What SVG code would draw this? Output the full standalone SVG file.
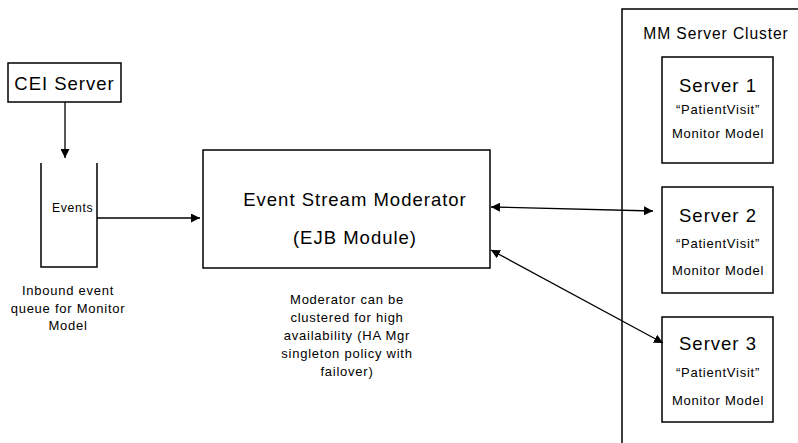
<svg xmlns="http://www.w3.org/2000/svg" width="798" height="443" viewBox="0 0 798 443">
<style>
text{font-family:"Liberation Sans",Arial,sans-serif;fill:#000;text-anchor:middle}
.box{fill:#fff;stroke:#000;stroke-width:1.5}
.ln{fill:none;stroke:#000;stroke-width:1.3}
.big{font-size:18.5px;letter-spacing:1px}
.sm{font-size:13px;letter-spacing:0.75px}
</style>
<defs>
<marker id="ah" viewBox="0 0 10 10" refX="10" refY="5" markerWidth="9" markerHeight="9" markerUnits="userSpaceOnUse" orient="auto-start-reverse">
<path d="M0,0 L10,5 L0,10 z" fill="#000"/>
</marker>
</defs>
<rect width="798" height="443" fill="#fff"/>
<g id="cluster">
<path class="ln" d="M800 9 H622 V445" style="stroke-width:1.5"/>
<text x="716" y="39" style="font-size:15.6px;letter-spacing:0.9px">MM Server Cluster</text>
</g>
<g id="cei">
<rect class="box" x="8" y="63" width="113" height="39"/>
<text class="big" x="64.5" y="89.5">CEI Server</text>
</g>
<g id="queue">
<path class="ln" d="M41 163 V267 H97 V163" style="stroke-width:1.5"/>
<text x="52" y="211.5" style="font-size:12.2px;letter-spacing:0.65px;text-anchor:start">Events</text>
<text class="sm" x="68" y="295">Inbound event</text>
<text class="sm" x="68" y="312.5">queue for Monitor</text>
<text class="sm" x="68" y="330">Model</text>
</g>
<g id="moderator">
<rect class="box" x="203" y="150" width="287" height="118"/>
<text class="big" x="355" y="205.5">Event Stream Moderator</text>
<text class="big" x="355" y="243.5">(EJB Module)</text>
<text class="sm" x="347" y="303.5">Moderator can be</text>
<text class="sm" x="347" y="321.5">clustered for high</text>
<text class="sm" x="347" y="339.5">availability (HA Mgr</text>
<text class="sm" x="347" y="357.5">singleton policy with</text>
<text class="sm" x="347" y="375.5">failover)</text>
</g>
<g id="server1">
<rect class="box" x="662" y="57" width="111" height="106"/>
<text class="big" x="718" y="91.5">Server 1</text>
<text class="sm" x="718" y="113.5">“PatientVisit”</text>
<text class="sm" x="718" y="137.5">Monitor Model</text>
</g>
<g id="server2">
<rect class="box" x="662" y="187" width="111" height="106"/>
<text class="big" x="718" y="221.5">Server 2</text>
<text class="sm" x="718" y="247.5">“PatientVisit”</text>
<text class="sm" x="718" y="274.5">Monitor Model</text>
</g>
<g id="server3">
<rect class="box" x="662" y="317" width="111" height="105"/>
<text class="big" x="718" y="349.5">Server 3</text>
<text class="sm" x="718" y="376.5">“PatientVisit”</text>
<text class="sm" x="718" y="404.5">Monitor Model</text>
</g>
<g id="connectors">
<line class="ln" x1="65" y1="102" x2="65" y2="158" marker-end="url(#ah)"/>
<line class="ln" x1="97" y1="218" x2="200" y2="218" marker-end="url(#ah)"/>
<line class="ln" x1="491" y1="207" x2="653" y2="211" marker-start="url(#ah)" marker-end="url(#ah)"/>
<line class="ln" x1="491" y1="250" x2="663" y2="343" marker-start="url(#ah)" marker-end="url(#ah)"/>
</g>
</svg>
